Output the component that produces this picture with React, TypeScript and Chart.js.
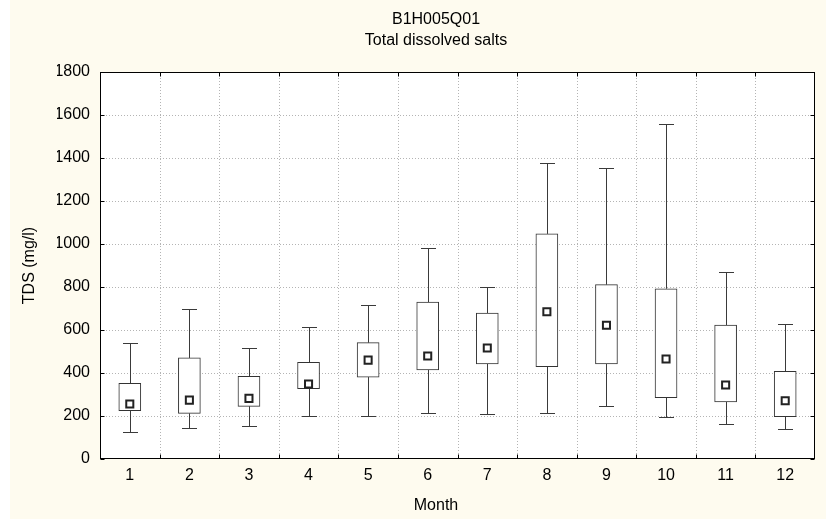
import React, { useEffect, useRef } from "react";
import { Chart, registerables } from "chart.js";

Chart.register(...registerables);

const months = ["1", "2", "3", "4", "5", "6", "7", "8", "9", "10", "11", "12"];
const whiskerMin = [124, 143, 155, 202, 202, 212, 209, 212, 247, 197, 161, 140];
const q1 = [225, 212, 245, 327, 381, 414, 442, 429, 442, 285, 265, 197];
const medians = [256, 274, 282, 349, 460, 479, 516, 685, 622, 465, 344, 271];
const q3 = [352, 470, 385, 450, 541, 730, 679, 1047, 811, 792, 623, 408];
const whiskerMax = [540, 698, 518, 615, 718, 983, 800, 1378, 1352, 1557, 868, 629];
const yTicks = [0, 200, 400, 600, 800, 1000, 1200, 1400, 1600, 1800];
const xTitle = "Month";

const FONT = "'Liberation Sans', Arial, sans-serif";
const CREAM = "#fefbef";
const FS = 16;

const bgPlugin = {
  id: "bg",
  beforeDraw(chart: any) {
    const { ctx, width, height, chartArea } = chart;
    ctx.save();
    ctx.fillStyle = "#ffffff";
    ctx.fillRect(0, 0, width, height);
    ctx.fillStyle = CREAM;
    ctx.fillRect(10, 0, width - 10, height);
    ctx.fillStyle = "#ffffff";
    ctx.fillRect(chartArea.left, chartArea.top, chartArea.right - chartArea.left, chartArea.bottom - chartArea.top);
    ctx.restore();
  },
};

const gridPlugin = {
  id: "dottedGrid",
  beforeDatasetsDraw(chart: any) {
    const { ctx, chartArea, scales } = chart;
    const { left, right, top, bottom } = chartArea;
    ctx.save();
    ctx.strokeStyle = "#b4b4b4";
    ctx.lineWidth = 1;
    ctx.setLineDash([1, 2]);
    ctx.beginPath();
    for (let i = 0; i < months.length - 1; i++) {
      const px = Math.round((scales.x.getPixelForValue(i) + scales.x.getPixelForValue(i + 1)) / 2) + 0.5;
      ctx.moveTo(px, top);
      ctx.lineTo(px, bottom);
    }
    yTicks.forEach((v) => {
      if (v === yTicks[0] || v === yTicks[yTicks.length - 1]) return;
      const py = Math.round(scales.y.getPixelForValue(v)) + 0.5;
      ctx.moveTo(left, py);
      ctx.lineTo(right, py);
    });
    ctx.stroke();
    ctx.restore();
  },
};

const whiskerPlugin = {
  id: "whiskers",
  beforeDatasetsDraw(chart: any) {
    const { ctx, scales } = chart;
    const x = scales.x;
    const y = scales.y;
    ctx.save();
    ctx.strokeStyle = "#3a3a3a";
    ctx.lineWidth = 1;
    const cap = 7.5;
    months.forEach((_, i) => {
      const px = Math.round(x.getPixelForValue(i)) + 0.5;
      const yMin = Math.round(y.getPixelForValue(whiskerMin[i])) + 0.5;
      const yQ1 = y.getPixelForValue(q1[i]);
      const yQ3 = y.getPixelForValue(q3[i]);
      const yMax = Math.round(y.getPixelForValue(whiskerMax[i])) + 0.5;
      ctx.beginPath();
      ctx.moveTo(px, yMin);
      ctx.lineTo(px, yQ1);
      ctx.moveTo(px, yQ3);
      ctx.lineTo(px, yMax);
      ctx.moveTo(px - cap, yMin);
      ctx.lineTo(px + cap, yMin);
      ctx.moveTo(px - cap, yMax);
      ctx.lineTo(px + cap, yMax);
      ctx.stroke();
    });
    ctx.restore();
  },
};

const framePlugin = {
  id: "frame",
  afterDraw(chart: any) {
    const { ctx, chartArea, scales } = chart;
    const { left, right, top, bottom } = chartArea;
    ctx.save();
    ctx.strokeStyle = "#000000";
    ctx.lineWidth = 1;
    const L = Math.round(left) + 0.5;
    const R = Math.round(right) - 0.5;
    const T = Math.round(top) + 0.5;
    const B = Math.round(bottom) - 0.5;
    ctx.strokeRect(L, T, R - L, B - T);
    const t = 4;
    ctx.beginPath();
    for (let i = 0; i < months.length - 1; i++) {
      const px = Math.round((scales.x.getPixelForValue(i) + scales.x.getPixelForValue(i + 1)) / 2) + 0.5;
      ctx.moveTo(px, T);
      ctx.lineTo(px, T + t);
      ctx.moveTo(px, B);
      ctx.lineTo(px, B - t);
    }
    yTicks.forEach((v) => {
      const py = Math.round(scales.y.getPixelForValue(v)) + 0.5;
      ctx.moveTo(L, py);
      ctx.lineTo(L + t, py);
      ctx.moveTo(R, py);
      ctx.lineTo(R - t, py);
    });
    ctx.stroke();

    // x-axis title, centred under the chart titles
    const tb = chart.titleBlock;
    const cx = tb ? (tb.left + tb.right) / 2 : (left + right) / 2;
    ctx.fillStyle = "#000";
    ctx.font = `${FS}px ${FONT}`;
    ctx.textAlign = "center";
    ctx.textBaseline = "middle";
    ctx.fillText(xTitle, cx, scales.x.bottom - 13);
    ctx.restore();
  },
};

export default function App() {
  const ref = useRef<HTMLCanvasElement | null>(null);

  useEffect(() => {
    if (!ref.current) return;
    const chart = new Chart(ref.current, {
      type: "bar",
      data: {
        labels: months,
        datasets: [
          {
            type: "bar",
            label: "Box",
            data: months.map((_, i) => [q1[i], q3[i]]),
            backgroundColor: "#ffffff",
            borderColor: "#333333",
            borderWidth: 1,
            borderSkipped: false,
            barThickness: 22,
            grouped: false,
            order: 2,
          } as any,
          {
            type: "line",
            label: "Median",
            data: medians,
            showLine: false,
            pointStyle: "rect",
            pointRadius: 5,
            pointBackgroundColor: "#ffffff",
            pointBorderColor: "#222222",
            pointBorderWidth: 2,
            order: 1,
          } as any,
        ],
      },
      options: {
        animation: false,
        responsive: false,
        events: [],
        layout: { padding: { left: 57, right: 11, top: 0, bottom: 0 } },
        plugins: {
          legend: { display: false },
          tooltip: { enabled: false },
          title: {
            display: true,
            text: "B1H005Q01",
            color: "#000",
            font: { family: FONT, size: FS, weight: "normal" },
            padding: { top: 10, bottom: 0 },
          },
          subtitle: {
            display: true,
            text: "Total dissolved salts",
            color: "#000",
            font: { family: FONT, size: FS, weight: "normal" },
            padding: { top: 2, bottom: 21.6 },
          },
        },
        scales: {
          x: {
            type: "category",
            offset: true,
            grid: { display: false, drawTicks: false } as any,
            border: { display: false },
            ticks: {
              color: "#000",
              padding: 7,
              font: { family: FONT, size: FS },
              maxRotation: 0,
            },
            title: { display: false, text: xTitle },
            afterFit(scale: any) {
              scale.height = 60;
            },
          },
          y: {
            min: 0,
            max: 1800,
            afterBuildTicks(scale: any) {
              scale.ticks = yTicks.map((v) => ({ value: v }));
            },
            grid: { display: false, drawTicks: false },
            border: { display: false },
            ticks: {
              color: "#000",
              padding: 10,
              font: { family: FONT, size: FS },
              callback: (v: any) => String(v),
            },
            title: {
              display: true,
              text: "TDS (mg/l)",
              color: "#000",
              font: { family: FONT, size: FS },
              padding: { top: -36.6, bottom: 0 },
            },
            afterFit(scale: any) {
              scale.width = 43;
            },
          },
        },
      },
      plugins: [bgPlugin, gridPlugin, whiskerPlugin, framePlugin],
    });
    return () => chart.destroy();
  }, []);

  return (
    <div style={{ position: "absolute", left: 0, top: 0, width: 826, height: 519 }}>
      <canvas ref={ref} width={826} height={519} style={{ display: "block" }} />
    </div>
  );
}
